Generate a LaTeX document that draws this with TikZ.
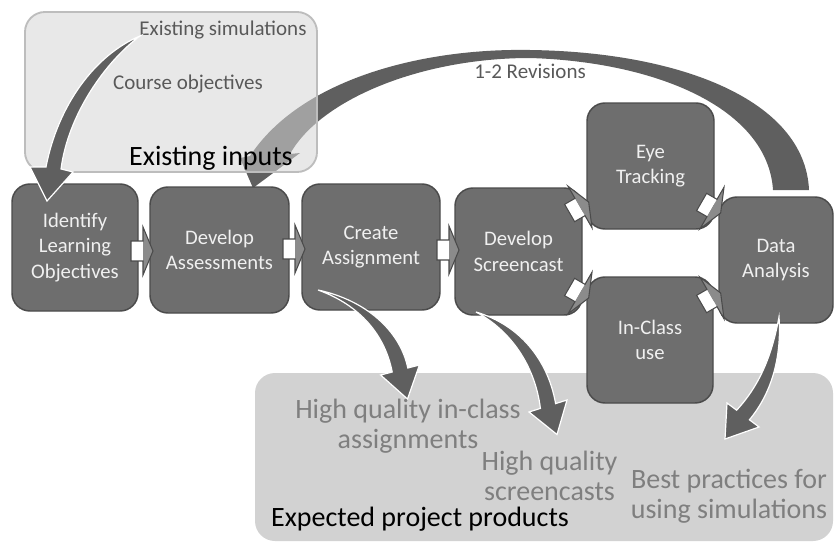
\documentclass[tikz,border=0pt]{standalone}
\usepackage{fontspec}
\setmainfont{Carlito}
\usetikzlibrary{calc}

\definecolor{procfill}{HTML}{6E6E6E}
\definecolor{procline}{HTML}{4B4B4B}
\definecolor{arrowgray}{HTML}{5F5F5F}
\definecolor{labelgray}{HTML}{595959}
\definecolor{prodgray}{HTML}{7F7F7F}
\definecolor{prodfill}{HTML}{D2D2D2}
\definecolor{infill}{HTML}{D6D6D6}
\definecolor{inline}{HTML}{BDBDBD}

\tikzset{
  proc/.style={draw=procline, line width=1.1pt, fill=procfill, rounded corners=13.5pt,
    text=white!94!black, align=center, font=\fontsize{15.5}{19}\selectfont,
    inner sep=0pt, outer sep=0pt},
  inbox/.style={draw=inline, line width=1.4pt, fill=infill, fill opacity=0.55,
    rounded corners=15pt, inner sep=0pt},
  prodbox/.style={fill=prodfill, rounded corners=15pt, inner sep=0pt},
  toplabel/.style={text=labelgray, font=\fontsize{15.75}{19}\selectfont, inner sep=0pt},
  prodlabel/.style={text=prodgray, align=center, font=\fontsize{21}{22.5}\selectfont, inner sep=0pt},
  titlelabel/.style={text=black, font=\fontsize{21}{24}\selectfont, inner sep=0pt},
  taper/.style={fill=arrowgray, draw=white, line width=0.9pt, line join=miter},
  blockarr/.pic={
    \fill[white] (-12,-10) rectangle (0,10);
    \fill[procfill!80!white] (0,-24) -- (10,0) -- (0,24) -- cycle;
    \draw[procline, line width=0.8pt, line join=miter]
      (-12,-10) -- (0,-10) -- (0,-24) -- (10,0) -- (0,24) -- (0,10) -- (-12,10) -- cycle;
  }
}

\begin{document}
\begin{tikzpicture}[x=0.75pt,y=-0.75pt]
  \useasboundingbox (0,0) rectangle (834,543);

  % products panel
  \node[prodbox, minimum width=433.5pt, minimum height=126pt] (products) at (544,457) {};

  % revision loop from Data Analysis back to Develop Assessments
  \fill[arrowgray] (250,156) .. controls (300,80) and (420,48) .. (530,50)
     .. controls (680,52) and (805,100) .. (809,190) -- (773,190)
     .. controls (768,110) and (660,62) .. (530,58)
     .. controls (420,58) and (320,100) .. (290,154)
     -- (300,153) -- (253,188) -- (240,158) -- cycle;
  \node[toplabel] (rev) at (530,71) {1-2 Revisions};

  % existing inputs panel
  \node[inbox, minimum width=219pt, minimum height=120pt] (inputs) at (171,92) {};
  \node[toplabel] (sims) at (223,30) {Existing simulations};
  \node[toplabel] (courseobj) at (188,84) {Course objectives};

  % process steps
  \node[proc, minimum width=94.5pt,  minimum height=95.25pt] (ident)  at (75,247.5)  {Identify\\Learning\\Objectives};
  \node[proc, minimum width=104.25pt, minimum height=94.5pt] (assess) at (219.5,250) {Develop\\Assessments};
  \node[proc, minimum width=103.5pt, minimum height=94.5pt]  (create) at (371,247)   {Create\\Assignment};
  \node[proc, minimum width=95.25pt, minimum height=95.25pt] (scr)    at (518.5,251.5) {Develop\\Screencast};
  \node[proc, minimum width=95.25pt, minimum height=94.5pt]  (eye)    at (650.5,166) {Eye\\Tracking};
  \node[proc, minimum width=94.5pt,  minimum height=94.5pt]  (incl)   at (650,340)   {In-Class\\use};
  \node[proc, minimum width=85.5pt,  minimum height=94.5pt]  (data)   at (776,260)   {Data\\Analysis};

  % step-to-step block arrows
  \pic at (143,251) {blockarr};
  \pic at (295,249) {blockarr};
  \pic at (449,250) {blockarr};
  \pic[rotate=30]  at (580,207) {blockarr};
  \pic[rotate=-30] at (580,293) {blockarr};
  \pic[rotate=-30] at (712,208) {blockarr};
  \pic[rotate=30]  at (712,298) {blockarr};

  % existing simulations feed into the first step
  \path[taper] (140,36) .. controls (95,55) and (58,105) .. (46,167)
     -- (30,167) -- (47,201) -- (73,172) -- (61,169)
     .. controls (68,115) and (105,62) .. (140,36) -- cycle;

  % products of the process
  \path[taper] (318,290) .. controls (365,300) and (400,330) .. (407.8,368)
     -- (419.4,365) -- (407.5,399) -- (380.6,375) -- (392.2,372)
     .. controls (385,335) and (360,305) .. (318,290) -- cycle;
  \path[taper] (476,312) .. controls (520,325) and (548,360) .. (555.6,403.6)
     -- (567,400) -- (557,434.5) -- (529,412) -- (540.4,408.4)
     .. controls (535,365) and (510,330) .. (476,312) -- cycle;
  \path[taper] (779,317) .. controls (782,360) and (770,395) .. (749.4,419.8)
     -- (759,427) -- (725,439) -- (727,403) -- (736.6,410.2)
     .. controls (760,385) and (772,355) .. (779,317) -- cycle;

  % panel captions and product labels
  \node[titlelabel] (inlabel) at (211,158) {Existing inputs};
  \node[prodlabel] (p1) at (408,426) {High quality in-class\\assignments};
  \node[prodlabel] (p2) at (549.5,475.5) {High quality\\screencasts};
  \node[prodlabel] (p3) at (729,496.5) {Best practices for\\using simulations};
  \node[titlelabel] (outlabel) at (420,519) {Expected project products};
\end{tikzpicture}
\end{document}
